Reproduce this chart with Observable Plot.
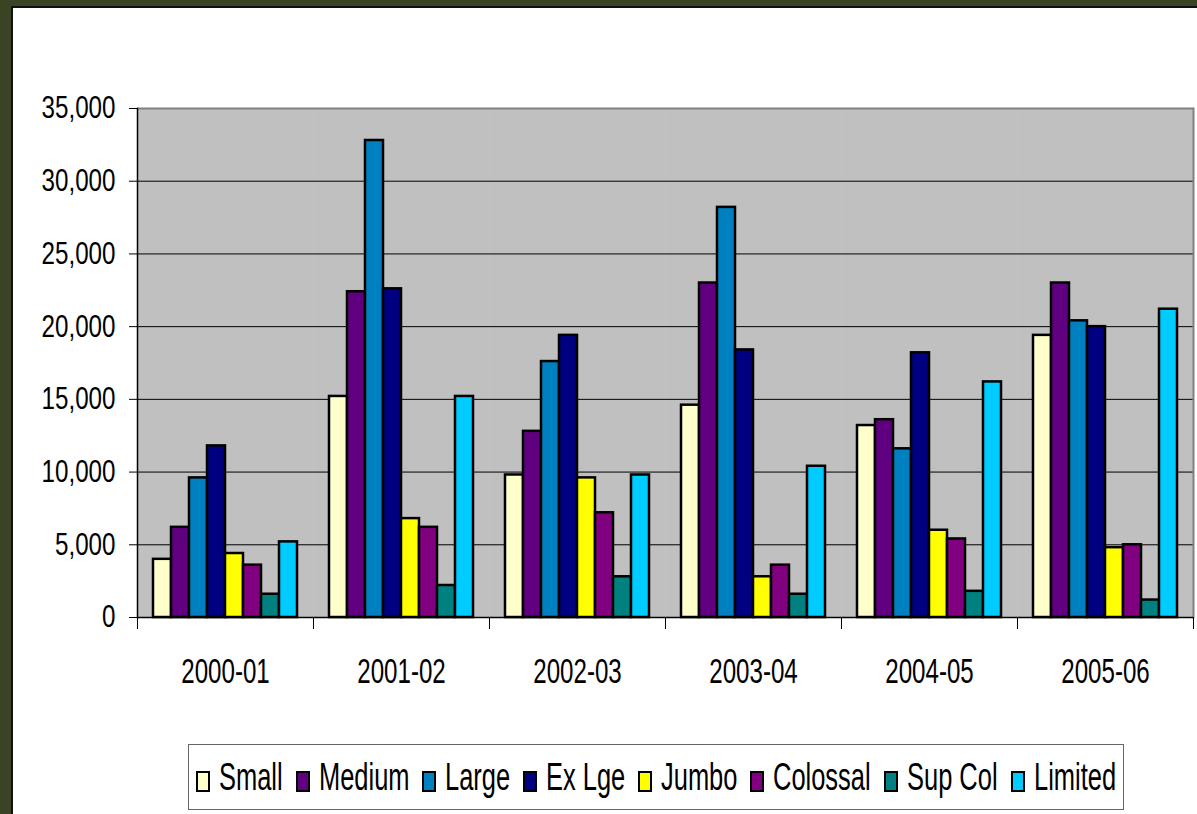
<!DOCTYPE html>
<html>
<head>
<meta charset="utf-8">
<script src="https://cdn.jsdelivr.net/npm/d3@7"></script>
<script src="https://cdn.jsdelivr.net/npm/@observablehq/plot@0.6"></script>
<style>
  html, body { margin: 0; padding: 0; }
  body { width: 1197px; height: 814px; background: #3a4425; position: relative; overflow: hidden;
         font-family: "Liberation Sans", Arial, sans-serif; }
  #panel { position: absolute; left: 11px; top: 6px; right: 0; bottom: 0; background: #fff;
           border-left: 2px solid #111; border-top: 2px solid #111; }
  #chart { position: absolute; left: 0; top: 0; }
  #legend { position: absolute; left: 188px; top: 744px; width: 934px; height: 64px;
            border: 1px solid #666; background: #fff; display: flex; align-items: center;
            justify-content: center; gap: 13px; font-size: 38px; line-height: 1; color: #000; }
  .item { display: flex; align-items: center; gap: 9px; }
  .sw { width: 10px; height: 17px; border: 2px solid #000; margin-top: 8px; }
  .lbl { display: inline-block; white-space: nowrap; transform: scaleX(0.67); transform-origin: 0 50%; }
</style>
</head>
<body>
<div id="panel"></div>
<div id="chart"></div>
<div id="legend"></div>
<script>
const periods = ["2000-01", "2001-02", "2002-03", "2003-04", "2004-05", "2005-06"];
const seriesNames = ["Small", "Medium", "Large", "Ex Lge", "Jumbo", "Colossal", "Sup Col", "Limited"];
const seriesColors = ["#FFFFCC", "#600080", "#0080C0", "#000080", "#FFFF00", "#800080", "#008080", "#00CCFF"];
const small    = [4000, 15200, 9800, 14600, 13200, 19400];
const medium   = [6200, 22400, 12800, 23000, 13600, 23000];
const large    = [9600, 32800, 17600, 28200, 11600, 20400];
const exLge    = [11800, 22600, 19400, 18400, 18200, 20000];
const jumbo    = [4400, 6800, 9600, 2800, 6000, 4800];
const colossal = [3600, 6200, 7200, 3600, 5400, 5000];
const supCol   = [1600, 2200, 2800, 1600, 1800, 1200];
const limited  = [5200, 15200, 9800, 10400, 16200, 21200];
const yTicks = [0, 5000, 10000, 15000, 20000, 25000, 30000, 35000];

const seriesValues = [small, medium, large, exLge, jumbo, colossal, supCol, limited];
const data = [];
periods.forEach((p, i) => seriesNames.forEach((s, j) => data.push({period: p, series: s, value: seriesValues[j][i]})));

const font = "Liberation Sans, Arial, sans-serif";
const plotH = 509;

const chart = Plot.plot({
  width: 1197,
  height: 700,
  marginLeft: 134,
  marginRight: 2,
  marginTop: 108,
  marginBottom: 83,
  style: {background: "transparent", fontFamily: font, fontSize: "31px", color: "#000"},
  fx: {domain: periods, padding: 0, label: null},
  x: {domain: seriesNames, paddingInner: 0, paddingOuter: 0.75, axis: null},
  y: {domain: [0, 35000], axis: null},
  color: {domain: seriesNames, range: seriesColors},
  marks: [
    Plot.frame({fill: "#C0C0C0", stroke: "#C0C0C0", strokeWidth: 0.5}),
    Plot.gridY(yTicks, {stroke: "#000", strokeOpacity: 1, strokeWidth: 1}),
    Plot.ruleY([35000], {stroke: "#808080", strokeWidth: 2}),
    Plot.frame({anchor: "right", stroke: "#808080", strokeWidth: 2, fx: () => periods[periods.length - 1]}),
    Plot.barY(data, {fx: "period", x: "series", y: "value", fill: "series", stroke: "#000", strokeWidth: 2.5, inset: 0}),
    Plot.ruleY([0], {stroke: "#000", strokeWidth: 1.5}),
    Plot.frame({anchor: "left", stroke: "#000", strokeWidth: 1.5, fx: () => periods[0]}),
    Plot.frame({anchor: "left", stroke: "#000", strokeWidth: 1, insetTop: plotH, insetBottom: -11}),
    Plot.frame({anchor: "right", stroke: "#000", strokeWidth: 1, insetTop: plotH, insetBottom: -11, fx: () => periods[periods.length - 1]}),
    Plot.axisY(yTicks, {anchor: "left", tickSize: 8, tickPadding: 14, tickFormat: d3.format(","), fontSize: 31, label: null, stroke: "#000"}),
    Plot.axisFx({anchor: "bottom", tickSize: 0, tickPadding: 40, fontSize: 36, label: null})
  ]
});
document.getElementById("chart").appendChild(chart);

// condense label glyphs horizontally (narrow font look)
function condense(selector, s) {
  chart.querySelectorAll(selector).forEach(t => {
    const tr = t.getAttribute("transform");
    if (tr) {
      t.setAttribute("transform", tr + ` scale(${s},1)`);
    } else {
      const x = +t.getAttribute("x") || 0, y = +t.getAttribute("y") || 0;
      t.removeAttribute("x"); t.removeAttribute("y");
      t.setAttribute("transform", `translate(${x},${y}) scale(${s},1)`);
    }
  });
}
condense('g[aria-label="y-axis tick label"] text', 0.78);
condense('g[aria-label="fx-axis tick label"] text', 0.67);

const legend = document.getElementById("legend");
seriesNames.forEach((s, i) => {
  const item = document.createElement("div");
  item.className = "item";
  const sw = document.createElement("div");
  sw.className = "sw";
  sw.style.background = seriesColors[i];
  const t = document.createElement("span");
  t.className = "lbl";
  t.textContent = s;
  item.appendChild(sw);
  item.appendChild(t);
  legend.appendChild(item);
});
legend.querySelectorAll(".lbl").forEach(t => {
  const w = t.offsetWidth;
  t.style.width = (w * 0.67) + "px";
});
</script>
</body>
</html>
